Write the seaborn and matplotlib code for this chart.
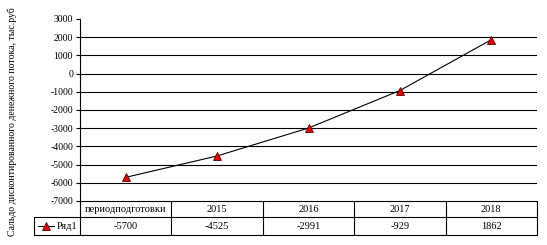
import matplotlib
matplotlib.use("Agg")
import matplotlib.pyplot as plt
import matplotlib.transforms as mtransforms
from matplotlib.lines import Line2D
import seaborn as sns
import pandas as pd

categories = ["периодподготовки", "2015", "2016", "2017", "2018"]
values = [-5700, -4525, -2991, -929, 1862]
value_labels = ["-5700", "-4525", "-2991", "-929", "1862"]
series_name = "Ряд1"
y_label = "Сальдо дисконтированного денежного потока, тыс.руб"
y_ticks = [3000, 2000, 1000, 0, -1000, -2000, -3000, -4000, -5000, -6000, -7000]

sns.set_theme(style="white")
plt.rcParams["font.family"] = ["Liberation Serif", "DejaVu Serif"]

W, H = 547, 245
fig = plt.figure(figsize=(W / 100, H / 100), dpi=100)
L, R, T, B = 80, 537, 19, 201
ax = fig.add_axes([L / W, 1 - B / H, (R - L) / W, (B - T) / H])

df = pd.DataFrame({"x": range(len(categories)), "y": values})
sns.lineplot(data=df, x="x", y="y", ax=ax, color="black", linewidth=0.8,
             marker="^", markersize=5.5, markerfacecolor="#e00000",
             markeredgecolor="#600000", markeredgewidth=0.6)

ax.set_xlim(-0.5, len(categories) - 0.5)
ax.set_ylim(-7000, 3000)
ax.set_yticks(y_ticks)
ax.set_yticklabels([str(t) for t in y_ticks], fontsize=7)
ax.set_xticks([])
ax.set_xlabel("")
ax.set_ylabel("")
for t in y_ticks:
    if -7000 < t < 3000:
        ax.axhline(t, color="black", linewidth=0.8, zorder=0)
for s in ["top", "right", "bottom"]:
    ax.spines[s].set_visible(False)
ax.spines["left"].set_color("black")
ax.spines["left"].set_linewidth(0.8)
ax.tick_params(axis="y", direction="out", length=3, width=0.8, color="black",
               left=True, pad=2, labelcolor="black")

# data table in figure pixel coords
tr = mtransforms.Affine2D().scale(1 / W, -1 / H).translate(0, 1) + fig.transFigure
lw = 0.8
row1_top, row1_bot, row2_bot = 201, 217, 235
leg_left = 34
colw = (R - L) / len(categories)
def line(x0, y0, x1, y1):
    fig.add_artist(Line2D([x0, x1], [y0, y1], transform=tr, color="black", linewidth=lw))
line(L, row1_top, R, row1_top)
line(leg_left, row1_bot, R, row1_bot)
line(leg_left, row2_bot, R, row2_bot)
line(leg_left, row1_bot, leg_left, row2_bot)
for i in range(len(categories) + 1):
    x = L + i * colw
    line(x, row1_top, x, row2_bot)
for i, (c, v) in enumerate(zip(categories, value_labels)):
    cx = L + (i + 0.5) * colw
    fig.text(cx / W, 1 - (row1_top + row1_bot) / 2 / H, c, ha="center", va="center",
             fontsize=7.5, color="black")
    fig.text(cx / W, 1 - (row1_bot + row2_bot) / 2 / H, v, ha="center", va="center",
             fontsize=7.5, color="black")
# legend key
ym = (row1_bot + row2_bot) / 2
fig.add_artist(Line2D([38, 54], [ym, ym], transform=tr, color="black", linewidth=lw))
fig.add_artist(Line2D([46], [ym], transform=tr, marker="^", markersize=5.5,
                      markerfacecolor="#e00000", markeredgecolor="#600000",
                      markeredgewidth=0.6, linestyle="none"))
fig.text(57 / W, 1 - ym / H, series_name, ha="left", va="center", fontsize=7.5, color="black")

fig.text(12 / W, 1 - 122 / H, y_label, rotation=90, ha="center", va="center",
         fontsize=7, color="black")

fig.savefig("out.png", dpi=100, facecolor="white")
